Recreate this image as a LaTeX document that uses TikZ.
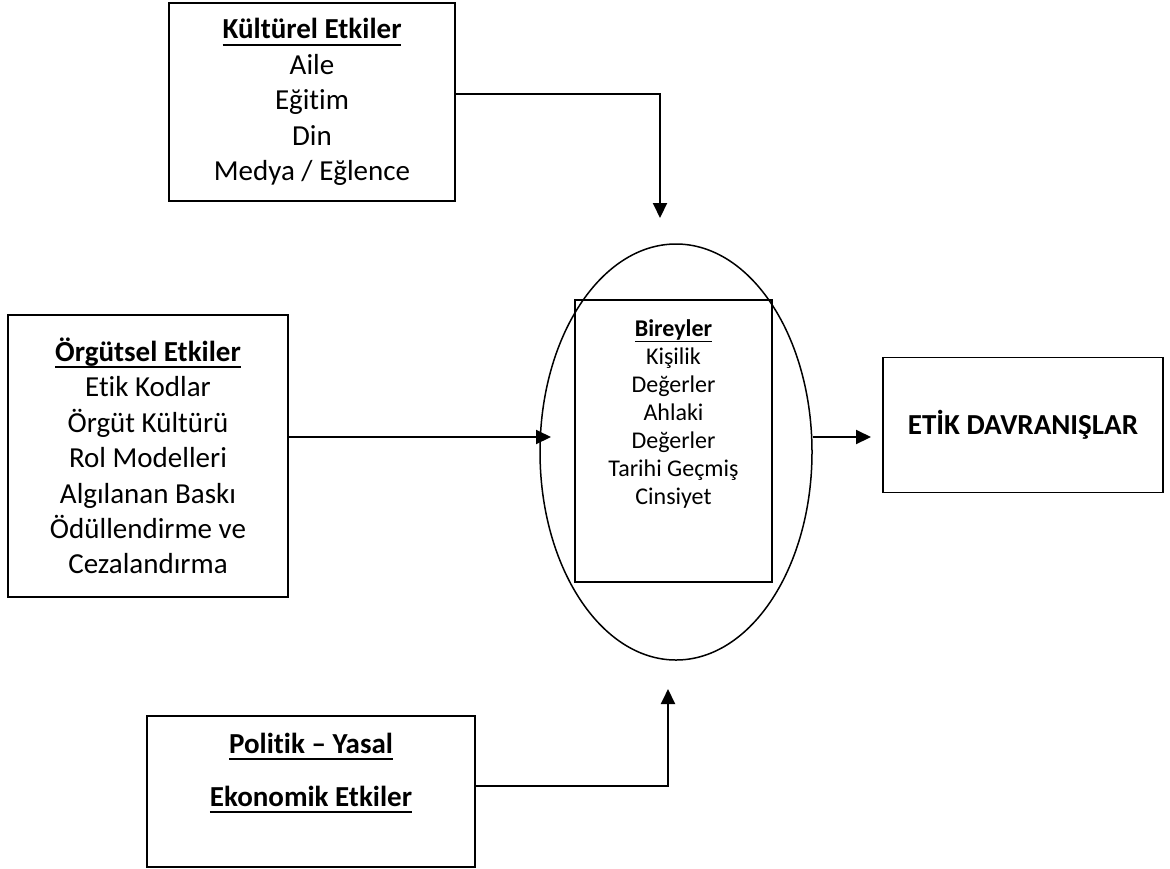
\documentclass[tikz,border=0pt]{standalone}
\usepackage{fontspec}
\setmainfont{Carlito}[Ligatures={NoCommon}]
\usetikzlibrary{arrows.meta, shapes.geometric, positioning}
\newsavebox{\headbox}
\newcommand{\bhead}[1]{\sbox{\headbox}{\textbf{#1}}%
  \rlap{\rule[-0.24em]{\wd\headbox}{0.07em}}\usebox{\headbox}}

\begin{document}
\begin{tikzpicture}
  [x=0.5pt, y=-0.5pt,
   etki box/.style={draw, line width=0.75pt, inner sep=0pt, align=center,
     font=\fontsize{14.5}{17.7}\selectfont},
   flow/.style={line width=1pt, -{Triangle[length=7.5pt, width=7pt]}}]

  \useasboundingbox (0,0) rectangle (1170,868);

  \node [etki box, minimum width=143pt, minimum height=99pt] (kultur) at (312,102)
    {\bhead{Kültürel Etkiler}\\ Aile\\ Eğitim\\ Din\\ Medya / Eğlence};

  \node [etki box, minimum width=140pt, minimum height=141pt] (orgut) at (148,456)
    {\bhead{Örgütsel Etkiler}\\ Etik Kodlar\\ Örgüt Kültürü\\ Rol Modelleri\\
     Algılanan Baskı\\ Ödüllendirme ve\\ Cezalandırma};

  \node [draw, ellipse, line width=0.75pt, inner sep=0pt,
    minimum width=136pt, minimum height=208pt] (birey) at (676,452) {};
  \node [etki box, minimum width=98.5pt, minimum height=141pt] (bireybox) at (673.5,441) {};
  \node [align=center, inner sep=0pt, font=\fontsize{12}{14}\selectfont,
    below=10pt of bireybox.north] (bireytext)
    {\bhead{Bireyler}\\ Kişilik\\ Değerler\\ Ahlaki\\ Değerler\\ Tarihi Geçmiş\\ Cinsiyet};

  \node [etki box, minimum width=140pt, minimum height=67.5pt] (davranis) at (1023,425)
    {\textbf{ETİK DAVRANIŞLAR}};

  \node [etki box, minimum width=164pt, minimum height=75.5pt] (politik) at (311,791.5) {};
  \node [align=center, inner sep=0pt, font=\fontsize{14.5}{17.7}\selectfont] (politiktext) at (311,773)
    {\bhead{Politik – Yasal}\\[9pt] \bhead{Ekonomik Etkiler}};

  \coordinate (kultur in) at (660,218);
  \coordinate (orgut in) at (551,437);
  \coordinate (politik in) at (668,689);
  \coordinate (davranis in) at (871,437);

  \draw [flow] ([yshift=4pt]kultur.east) -| (kultur in);
  \draw [flow] ([yshift=9.5pt]orgut.east) -- (orgut in);
  \draw [flow] ([yshift=2.75pt]politik.east) -| (politik in);
  \draw [flow] ([yshift=7.5pt]birey.east) -- (davranis in);

\end{tikzpicture}
\end{document}
